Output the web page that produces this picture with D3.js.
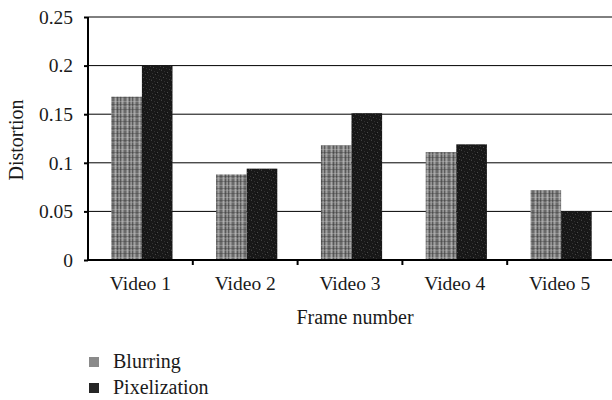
<!DOCTYPE html>
<html>
<head>
<meta charset="utf-8">
<script src="https://cdn.jsdelivr.net/npm/d3@7/dist/d3.min.js"></script>
<style>
  html, body { margin: 0; padding: 0; background: #fff; }
  svg text { font-family: "Liberation Serif", "DejaVu Serif", serif !important; fill: #1a1a1a; }
</style>
</head>
<body>
<svg id="chart" width="612" height="400"></svg>
<script>
// Distortion per video for the two degradation types
const categories = ["Video 1", "Video 2", "Video 3", "Video 4", "Video 5"];
const seriesNames = ["Blurring", "Pixelization"];
const blurring = [0.168, 0.088, 0.118, 0.111, 0.072];
const pixelization = [0.200, 0.094, 0.151, 0.119, 0.050];
const yTicks = [0, 0.05, 0.1, 0.15, 0.2, 0.25];
const yTickLabels = ["0", "0.05", "0.1", "0.15", "0.2", "0.25"];

const serif = '"Liberation Serif", "DejaVu Serif", serif';
const svg = d3.select("#chart");
const margin = { left: 88, right: 612, top: 17, bottom: 260 };

const x = d3.scaleBand().domain(categories).range([margin.left, margin.right]).paddingInner(0).paddingOuter(0);
const y = d3.scaleLinear().domain([0, 0.25]).range([margin.bottom, margin.top]);

// Textured fills for the two series
const defs = svg.append("defs");
const pBlur = defs.append("pattern").attr("id", "blurTex")
  .attr("patternUnits", "userSpaceOnUse").attr("width", 12).attr("height", 12);
pBlur.append("rect").attr("width", 12).attr("height", 12).attr("fill", "#858585");
[[0, 1, "#5c5c5c"], [2, 1, "#a0a0a0"], [4, 2, "#6a6a6a"], [7, 1, "#a8a8a8"], [9, 1, "#595959"], [11, 1, "#949494"]]
  .forEach(([px, w, c]) => pBlur.append("rect").attr("x", px).attr("y", 0).attr("width", w).attr("height", 12).attr("fill", c));
[[1, "rgba(60,60,60,0.4)"], [5, "rgba(200,200,200,0.35)"], [8, "rgba(50,50,50,0.35)"], [10, "rgba(180,180,180,0.3)"]]
  .forEach(([py, c]) => pBlur.append("rect").attr("x", 0).attr("y", py).attr("width", 12).attr("height", 1).attr("fill", c));

const pPix = defs.append("pattern").attr("id", "pixTex")
  .attr("patternUnits", "userSpaceOnUse").attr("width", 10).attr("height", 10);
pPix.append("rect").attr("width", 10).attr("height", 10).attr("fill", "#181818");
[[1, 0, "#3e3e3e"], [4, 1, "#2e2e2e"], [7, 2, "#4a4a4a"], [2, 3, "#333"], [5, 4, "#424242"], [8, 5, "#2c2c2c"],
 [0, 6, "#393939"], [3, 7, "#4c4c4c"], [6, 8, "#313131"], [9, 9, "#3f3f3f"], [1, 9, "#282828"], [6, 3, "#0a0a0a"]]
  .forEach(([px, py, c]) => pPix.append("rect").attr("x", px).attr("y", py).attr("width", 1).attr("height", 1).attr("fill", c));

// Gridlines
svg.append("g").selectAll("line").data(yTicks.slice(1)).join("line")
  .attr("x1", margin.left).attr("x2", margin.right)
  .attr("y1", d => y(d)).attr("y2", d => y(d))
  .attr("stroke", "#000").attr("stroke-width", 1);

// Bars, the pair sits slightly right of each band's centre
const barW = x.bandwidth() * 0.292;
const pairOffset = 1.5;
const fills = ["url(#blurTex)", "url(#pixTex)"];
const series = [blurring, pixelization];
series.forEach((vals, si) => {
  svg.append("g").selectAll("rect").data(vals).join("rect")
    .attr("x", (d, i) => x(categories[i]) + x.bandwidth() / 2 - barW + si * barW + pairOffset)
    .attr("y", d => y(d))
    .attr("width", barW)
    .attr("height", d => y(0) - y(d))
    .attr("fill", fills[si]);
});

// Y axis
const yAxis = d3.axisLeft(y).tickValues(yTicks).tickFormat((d, i) => yTickLabels[i]).tickSize(4).tickPadding(11);
const gy = svg.append("g").attr("transform", `translate(${margin.left},0)`).call(yAxis)
  .attr("font-family", serif);
gy.select(".domain").attr("stroke", "#000").attr("stroke-width", 2).attr("d", `M0,${margin.top}V${margin.bottom}`);
gy.selectAll(".tick line").attr("stroke", "#000").attr("stroke-width", 2);
gy.selectAll(".tick text").attr("font-size", 19.5).style("font-family", serif).attr("fill", "#1a1a1a");

// X axis with ticks between categories
const xAxis = d3.axisBottom(x).tickSize(0).tickPadding(16);
const gx = svg.append("g").attr("transform", `translate(0,${margin.bottom})`).call(xAxis)
  .attr("font-family", serif);
gx.select(".domain").attr("stroke", "#000").attr("stroke-width", 2).attr("d", `M${margin.left},0H${margin.right}`);
gx.selectAll(".tick text").attr("font-size", 19.5).style("font-family", serif).attr("fill", "#1a1a1a");
gx.selectAll("line.sep").data(categories.slice(1)).join("line").attr("class", "sep")
  .attr("x1", d => x(d)).attr("x2", d => x(d)).attr("y1", 0).attr("y2", 5)
  .attr("stroke", "#000").attr("stroke-width", 2);

// Axis titles
svg.append("text").attr("x", 355).attr("y", 324).attr("text-anchor", "middle")
  .attr("font-size", 20).text("Frame number");
svg.append("text").attr("transform", "translate(23,140) rotate(-90)").attr("text-anchor", "middle")
  .attr("font-size", 20).text("Distortion");

// Legend
const legend = svg.append("g");
seriesNames.forEach((name, i) => {
  const ly = 357 + i * 26;
  legend.append("rect").attr("x", 89).attr("y", ly).attr("width", 10).attr("height", 10)
    .attr("fill", i === 0 ? "#8a8a8a" : "#262626");
  legend.append("text").attr("x", 113).attr("y", ly + 11).attr("font-size", 20).text(name);
});
</script>
</body>
</html>
